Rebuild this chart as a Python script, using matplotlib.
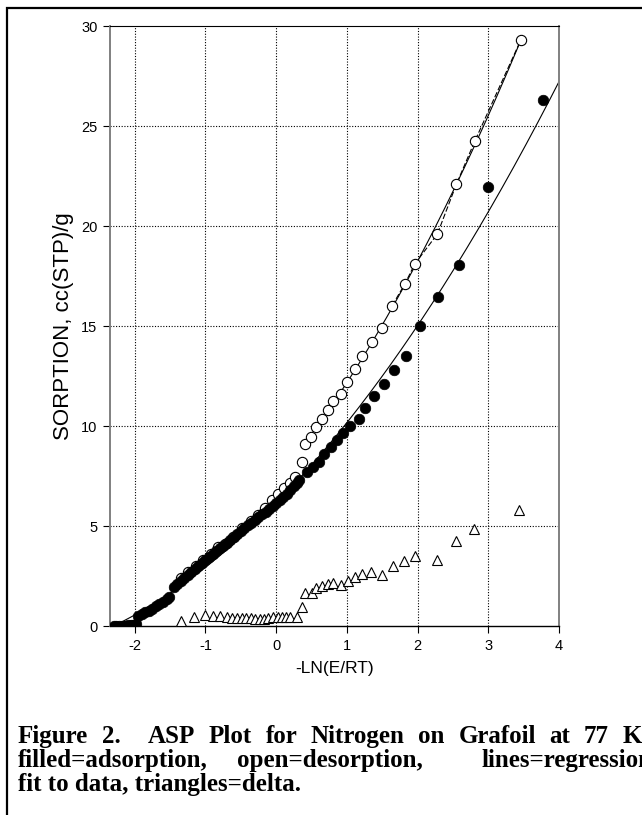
import matplotlib
matplotlib.use("Agg")
import matplotlib.pyplot as plt
import numpy as np
from matplotlib.patches import Rectangle

plt.rcParams["axes.unicode_minus"] = False
plt.rcParams["font.family"] = ["Liberation Sans", "DejaVu Sans"]

# ---------------- data ----------------
ads_x = [-2.30, -2.26, -2.22, -2.18, -2.14, -2.10, -2.06, -2.02, -1.98,
         -1.95, -1.90, -1.85, -1.80, -1.75, -1.70, -1.65, -1.60, -1.55, -1.52,
         -1.45, -1.40, -1.35, -1.30, -1.25, -1.20, -1.15, -1.10, -1.05, -1.00,
         -0.95, -0.90, -0.85, -0.80, -0.75, -0.70, -0.65, -0.60, -0.55, -0.50,
         -0.45, -0.40, -0.35, -0.30, -0.25, -0.20, -0.15, -0.10, -0.05, 0.00,
         0.05, 0.10, 0.15, 0.20, 0.25, 0.30,
         0.33, 0.43, 0.52, 0.61, 0.67, 0.78, 0.86, 0.95, 1.05, 1.17, 1.25,
         1.38, 1.52, 1.66, 1.83, 2.04, 2.29, 2.59, 2.99, 3.78]
ads_y = [0.00, 0.01, 0.01, 0.02, 0.02, 0.03, 0.04, 0.05, 0.08,
         0.50, 0.59, 0.68, 0.77, 0.87, 0.98, 1.10, 1.22, 1.35, 1.45,
         1.97, 2.12, 2.27, 2.41, 2.56, 2.71, 2.85, 3.00, 3.14, 3.28,
         3.43, 3.58, 3.73, 3.88, 4.01, 4.15, 4.30, 4.45, 4.60, 4.75,
         4.90, 5.03, 5.17, 5.31, 5.45, 5.59, 5.72, 5.86, 6.00, 6.14,
         6.30, 6.46, 6.62, 6.80, 6.98, 7.16,
         7.30, 7.70, 7.97, 8.20, 8.60, 8.97, 9.30, 9.63, 10.00, 10.33, 10.90,
         11.50, 12.10, 12.80, 13.50, 15.00, 16.47, 18.05, 21.97, 26.30]

des_x = [-1.35, -1.24, -1.13, -1.03, -0.92, -0.82, -0.72, -0.61, -0.49, -0.35,
         -0.25, -0.16, -0.06, 0.03, 0.11, 0.19, 0.26, 0.37, 0.41, 0.49, 0.57,
         0.65, 0.73, 0.81, 0.91, 1.00, 1.11, 1.22, 1.35, 1.50, 1.64, 1.82,
         1.96, 2.28, 2.55, 2.81, 3.46]
des_y = [2.40, 2.72, 3.00, 3.30, 3.60, 3.93, 4.10, 4.47, 4.88, 5.25,
         5.55, 5.88, 6.30, 6.62, 6.90, 7.13, 7.45, 8.22, 9.08, 9.43, 9.95,
         10.35, 10.80, 11.26, 11.60, 12.18, 12.85, 13.52, 14.22, 14.92, 16.02, 17.10,
         18.10, 19.60, 22.10, 24.25, 29.30]

tri_x = [-1.34, -1.16, -1.01, -0.89, -0.79, -0.70, -0.63, -0.56, -0.49, -0.43,
         -0.36, -0.30, -0.23, -0.17, -0.11, -0.04, 0.02, 0.08, 0.14, 0.19,
         0.29, 0.37, 0.41, 0.50, 0.57, 0.65, 0.73, 0.81, 0.91, 1.02,
         1.11, 1.22, 1.34, 1.50, 1.65, 1.81, 1.96, 2.27, 2.54, 2.80, 3.44]
tri_y = [0.25, 0.47, 0.53, 0.50, 0.50, 0.44, 0.42, 0.40, 0.40, 0.38,
         0.38, 0.37, 0.35, 0.37, 0.38, 0.43, 0.47, 0.47, 0.47, 0.45,
         0.47, 0.95, 1.65, 1.67, 1.88, 2.00, 2.11, 2.17, 2.05, 2.26,
         2.43, 2.60, 2.72, 2.56, 3.01, 3.26, 3.50, 3.30, 4.25, 4.83, 5.80]

x_ticks = [-2, -1, 0, 1, 2, 3, 4]
x_ticklabels = ["-2", "-1", "0", "1", "2", "3", "4"]
y_ticks = [0, 5, 10, 15, 20, 25, 30]
y_ticklabels = ["0", "5", "10", "15", "20", "25", "30"]

x_label = "-LN(E/RT)"
y_label = "SORPTION, cc(STP)/g"
caption_line1 = ["Figure", "2.", "ASP", "Plot", "for", "Nitrogen", "on",
                 "Grafoil", "at", "77", "K."]
caption_line1_gaps = [1, 2, 1, 1, 1, 1, 1, 1, 1, 1]
caption_line2 = ["filled=adsorption,", "open=desorption,", "lines=regression"]
caption_line2_gaps = [1, 2]
caption_line3 = "fit to data, triangles=delta."

# ---------------- figure ----------------
W, H = 642, 815
fig = plt.figure(figsize=(W / 100, H / 100), dpi=100)
fig.patch.set_facecolor("white")

ax = fig.add_axes([110 / W, 1 - 626 / H, (559 - 110) / W, (626 - 26) / H])
ax.set_xlim(-2.35, 4.0)
ax.set_ylim(0, 30)

# grid
for gx in x_ticks[:-1]:
    ax.axvline(gx, color="black", lw=0.8, ls=(0, (1, 1.5)), zorder=0.5)
for gy in y_ticks[1:-1]:
    ax.axhline(gy, color="black", lw=0.8, ls=(0, (1, 1.5)), zorder=0.5)

ads_x_a = np.array(ads_x)
ads_y_a = np.array(ads_y)
des_x_a = np.array(des_x)
des_y_a = np.array(des_y)

# regression fits
c_ads = np.polyfit(ads_x_a, ads_y_a, 2)
xf = np.linspace(-2.3, 4.0, 300)
ax.plot(xf, np.polyval(c_ads, xf), color="black", lw=0.8, zorder=2)

mask = des_x_a >= 0.41
c_des = np.polyfit(des_x_a[mask], des_y_a[mask], 2)
xd = np.linspace(0.41, des_x_a.max(), 200)
ax.plot(xd, np.polyval(c_des, xd), color="black", lw=0.8, zorder=2)

mask2 = des_x_a >= 1.64
ax.plot(des_x_a[mask2], des_y_a[mask2], color="black", lw=0.8,
        ls=(0, (5, 2)), zorder=2)

# markers
ax.plot(des_x, des_y, ls="none", marker="o", ms=7.4, mfc="white",
        mec="black", mew=0.8, zorder=3)
ax.plot(ads_x, ads_y, ls="none", marker="o", ms=7.6, mfc="black",
        mec="black", mew=0.5, zorder=4)
ax.plot(tri_x, tri_y, ls="none", marker="^", ms=7.2, mfc="white",
        mec="black", mew=0.8, zorder=3)

# axes styling
for side in ["left", "right"]:
    ax.spines[side].set_color("#808080")
    ax.spines[side].set_linewidth(1.4)
ax.spines["bottom"].set_linewidth(1.0)
ax.spines["top"].set_linewidth(0.8)
ax.set_xticks(x_ticks)
ax.set_xticklabels(x_ticklabels)
ax.set_yticks(y_ticks)
ax.set_yticklabels(y_ticklabels)
ax.tick_params(direction="out", length=5, width=0.8, labelsize=10.5,
               pad=4, top=False, right=False)

fig.text(64 / W, 1 - 326 / H, y_label, rotation=90, ha="center", va="center",
         fontsize=16)
fig.text(335 / W, 1 - 668 / H, x_label, ha="center", va="center", fontsize=12.5)

# figure border
fig.add_artist(Rectangle((7 / W, -0.05), 1.2, 1.05 - 8 / H, transform=fig.transFigure,
                         fill=False, edgecolor="black", lw=1.6))

# caption (justified lines)
cap_kw = dict(family=["Liberation Serif"], weight="bold", fontsize=18,
              va="baseline", ha="left")
renderer = fig.canvas.get_renderer()


def justify(words, gaps, x0, x1, ybase):
    texts = [fig.text(0, 1 - ybase / H, w, **cap_kw) for w in words]
    widths = [t.get_window_extent(renderer).width for t in texts]
    unit = (x1 - x0 - sum(widths)) / sum(gaps)
    x = x0
    for i, t in enumerate(texts):
        t.set_x(x / W)
        if i < len(gaps):
            x += widths[i] + gaps[i] * unit


justify(caption_line1, caption_line1_gaps, 18, 648, 743)
justify(caption_line2, caption_line2_gaps, 18, 652, 767)
fig.text(18 / W, 1 - 791 / H, caption_line3, **cap_kw)

fig.savefig("out.png", dpi=100, facecolor="white")
